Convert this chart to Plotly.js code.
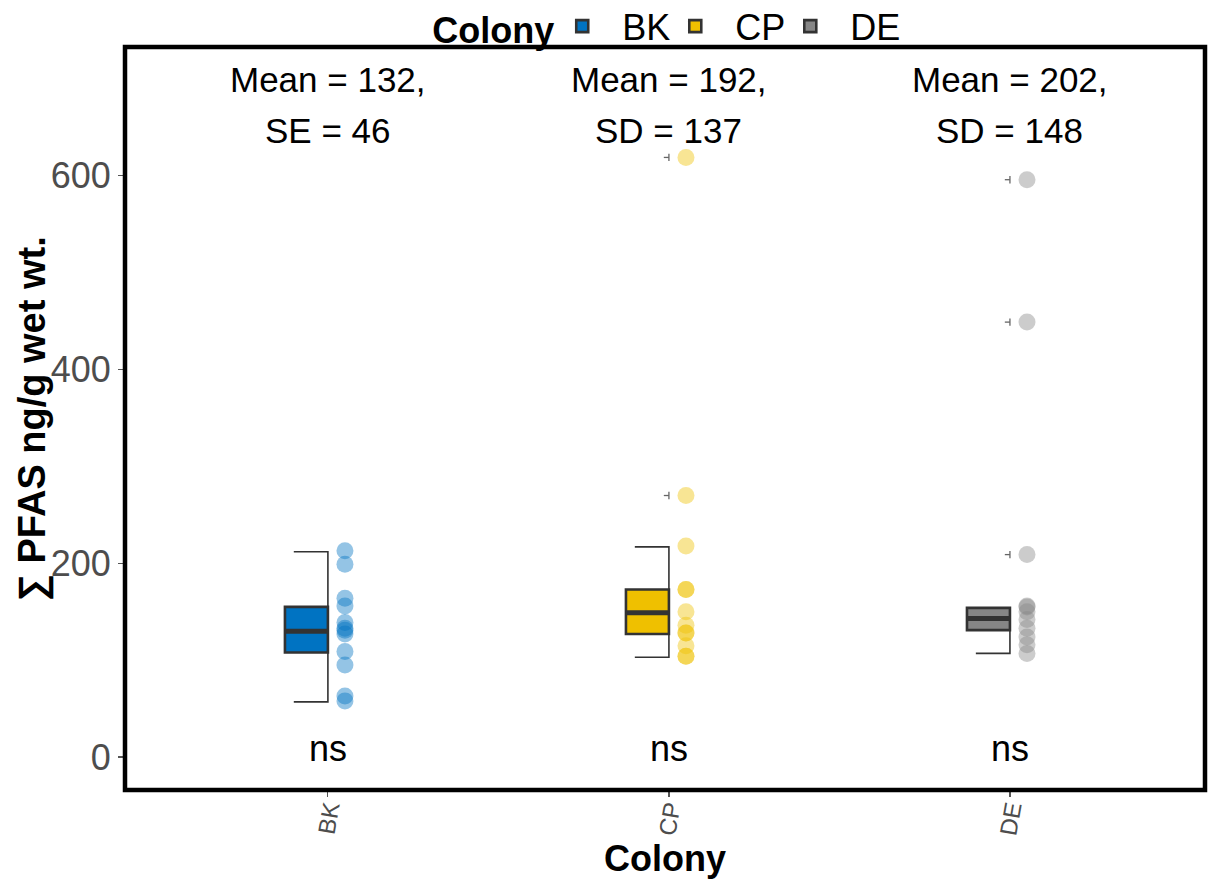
<!DOCTYPE html>
<html>
<head>
<meta charset="utf-8">
<script src="https://cdn.plot.ly/plotly-3.0.1.min.js"></script>
<style>html,body{margin:0;padding:0;background:#fff;}</style>
</head>
<body>
<div id="chart" style="width:1208px;height:879px;"></div>
<script>
// ---- data ----
const categories = ['BK', 'CP', 'DE'];
const colors = ['#0073C2', '#EFC000', '#868686'];
const pointColors = ['rgba(0,115,194,0.42)', 'rgba(239,192,0,0.42)', 'rgba(134,134,134,0.42)'];
const bkValues = [213, 199, 164, 156, 139, 133, 131, 127, 109, 95, 63, 58];
const cpValues = [619, 270, 218, 173, 173, 150, 136, 128, 128, 115, 104, 104];
const deValues = [596, 449, 209, 156, 155, 150, 142, 133, 124, 116, 107];
const q1 = [108, 127, 131];
const median = [130, 149, 143];
const q3 = [155, 173, 154];
const whiskerLow = [57, 103, 107];
const whiskerHigh = [212, 217, 154];
const bkOutliers = [];
const cpOutliers = [270, 619];
const deOutliers = [209, 449, 596];
const meanLabels = ['Mean = 132,', 'Mean = 192,', 'Mean = 202,'];
const spreadLabels = ['SE = 46', 'SD = 137', 'SD = 148'];
const testLabels = ['ns', 'ns', 'ns'];
const yTicks = [0, 200, 400, 600];
const yTitle = '∑ PFAS ng/g wet wt.';
const xTitle = 'Colony';
const legendTitle = 'Colony';

const groupValues = [bkValues, cpValues, deValues];
const groupOutliers = [bkOutliers, cpOutliers, deOutliers];

// ---- geometry (data units along the numeric x axis) ----
const boxW = 0.126, capW = 0.1, pointOff = 0.05, outTickW = 0.015, outTickH = 3.8;
const FONT = 'Liberation Sans, Arial, sans-serif';
const PAD = '\u00a0\u00a0';

const traces = [];
categories.forEach((cat, i) => {
  traces.push({
    type: 'scatter', mode: 'lines', showlegend: false, hoverinfo: 'skip',
    x: [i - capW, i, i, i - capW],
    y: [whiskerLow[i], whiskerLow[i], whiskerHigh[i], whiskerHigh[i]],
    line: {color: '#333333', width: 1.6}
  });
});
categories.forEach((cat, i) => {
  traces.push({
    type: 'box', name: PAD + cat, legendgroup: cat, showlegend: true,
    x: [i - boxW / 2], q1: [q1[i]], median: [median[i]], q3: [q3[i]],
    lowerfence: [q1[i]], upperfence: [q3[i]],
    width: boxW, boxpoints: false,
    fillcolor: colors[i], line: {color: '#333333', width: 2.6}
  });
});
categories.forEach((cat, i) => {
  traces.push({
    type: 'scatter', mode: 'lines', showlegend: false, hoverinfo: 'skip',
    x: [i - boxW, i], y: [median[i], median[i]],
    line: {color: '#333333', width: 5}
  });
  const ox = [], oy = [];
  groupOutliers[i].forEach(v => {
    ox.push(i - outTickW, i, null, i, i, null);
    oy.push(v, v, null, v - outTickH, v + outTickH, null);
  });
  if (ox.length) {
    traces.push({
      type: 'scatter', mode: 'lines', showlegend: false, hoverinfo: 'skip',
      x: ox, y: oy, line: {color: '#666666', width: 1.3}
    });
  }
  traces.push({
    type: 'scatter', mode: 'markers', showlegend: false, legendgroup: cat,
    x: groupValues[i].map(() => i + pointOff), y: groupValues[i],
    marker: {color: pointColors[i], size: 17, line: {width: 0}}
  });
});

const annotations = [];
categories.forEach((cat, i) => {
  annotations.push({x: i, y: 699, xref: 'x', yref: 'y', text: meanLabels[i], showarrow: false,
    font: {family: FONT, size: 35, color: '#000'}, xanchor: 'center', yanchor: 'middle'});
  annotations.push({x: i, y: 647, xref: 'x', yref: 'y', text: spreadLabels[i], showarrow: false,
    font: {family: FONT, size: 35, color: '#000'}, xanchor: 'center', yanchor: 'middle'});
  annotations.push({x: i, y: 9, xref: 'x', yref: 'y', text: testLabels[i], showarrow: false,
    font: {family: FONT, size: 36, color: '#000'}, xanchor: 'center', yanchor: 'middle'});
});
annotations.push({x: -0.0855, y: 0.5, xref: 'paper', yref: 'paper', text: '<b>' + yTitle + '</b>',
  textangle: -90, showarrow: false, xanchor: 'center', yanchor: 'middle',
  font: {family: FONT, size: 38, color: '#000'}});

const layout = {
  width: 1208, height: 879,
  margin: {l: 125, r: 3, t: 47, b: 89, autoexpand: false},
  paper_bgcolor: '#ffffff', plot_bgcolor: '#ffffff',
  font: {family: FONT, color: '#000'},
  showlegend: true,
  legend: {
    orientation: 'h', x: 0.503, xanchor: 'center', y: 1.028, yanchor: 'middle',
    bgcolor: 'rgba(0,0,0,0)',
    title: {text: '<b>' + legendTitle + '</b>', side: 'left', font: {family: FONT, size: 36, color: '#000'}},
    font: {family: FONT, size: 36, color: '#000'},
    itemwidth: 30, tracegroupgap: 0
  },
  xaxis: {
    range: [-0.595, 2.572], tickmode: 'array', tickvals: [0, 1, 2], ticktext: categories,
    tickangle: -80, tickfont: {family: FONT, size: 24, color: '#4d4d4d'},
    ticks: 'outside', ticklen: 6, tickwidth: 1.2, tickcolor: '#555',
    ticklabelstandoff: -12,
    showgrid: false, zeroline: false, showline: false,
    title: {text: '<b>' + xTitle + '</b>', font: {family: FONT, size: 36, color: '#000'}, standoff: 8}
  },
  yaxis: {
    range: [-34, 733], tickmode: 'array', tickvals: yTicks,
    tickfont: {family: FONT, size: 36, color: '#4d4d4d'},
    ticks: 'outside', ticklen: 6, tickwidth: 1.2, tickcolor: '#555',
    showgrid: false, zeroline: false, showline: false
  },
  shapes: [{type: 'rect', xref: 'paper', yref: 'paper', x0: 0, x1: 1, y0: 0, y1: 1,
    line: {color: '#000', width: 4.5}, fillcolor: 'rgba(0,0,0,0)', layer: 'above'}],
  annotations: annotations
};

Plotly.newPlot('chart', traces, layout, {displayModeBar: false, staticPlot: true});
</script>
</body>
</html>
